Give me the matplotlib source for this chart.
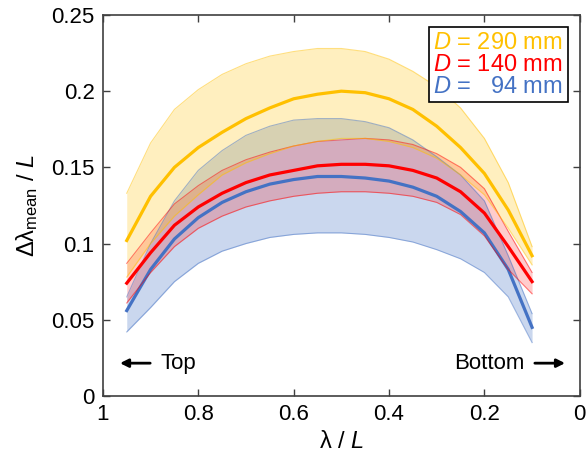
import matplotlib
matplotlib.use("Agg")
import matplotlib.pyplot as plt
import numpy as np

plt.rcParams['font.family'] = 'Liberation Sans'
plt.rcParams['mathtext.fontset'] = 'custom'
plt.rcParams['mathtext.rm'] = 'Liberation Sans'
plt.rcParams['mathtext.it'] = 'Liberation Sans:italic'
plt.rcParams['mathtext.bf'] = 'Liberation Sans:bold'

# position along the sample, lambda / L
x = [0.95, 0.9, 0.85, 0.8, 0.75, 0.7, 0.65, 0.6, 0.55, 0.5,
     0.45, 0.4, 0.35, 0.3, 0.25, 0.2, 0.15, 0.1]

# D = 290 mm
y290 = [0.102, 0.131, 0.150, 0.163, 0.173, 0.182, 0.189, 0.195, 0.198, 0.200,
        0.199, 0.195, 0.188, 0.177, 0.163, 0.146, 0.122, 0.092]
hi290 = [0.133, 0.166, 0.188, 0.201, 0.211, 0.218, 0.223, 0.226, 0.228, 0.228,
         0.226, 0.221, 0.213, 0.203, 0.189, 0.169, 0.140, 0.098]
lo290 = [0.078, 0.100, 0.118, 0.132, 0.145, 0.153, 0.159, 0.164, 0.167, 0.169,
         0.169, 0.167, 0.163, 0.156, 0.145, 0.132, 0.110, 0.086]

# D = 140 mm
y140 = [0.074, 0.094, 0.112, 0.124, 0.133, 0.140, 0.145, 0.148, 0.151, 0.152,
        0.152, 0.151, 0.148, 0.143, 0.134, 0.120, 0.098, 0.075]
hi140 = [0.087, 0.107, 0.126, 0.138, 0.148, 0.155, 0.160, 0.164, 0.167, 0.168,
         0.169, 0.168, 0.165, 0.159, 0.150, 0.136, 0.108, 0.081]
lo140 = [0.061, 0.081, 0.098, 0.110, 0.118, 0.124, 0.128, 0.131, 0.133, 0.134,
         0.134, 0.133, 0.131, 0.127, 0.119, 0.105, 0.083, 0.067]

# D = 94 mm
y94 = [0.056, 0.083, 0.103, 0.117, 0.127, 0.134, 0.139, 0.142, 0.144, 0.144,
       0.143, 0.141, 0.137, 0.131, 0.121, 0.107, 0.083, 0.045]
hi94 = [0.065, 0.100, 0.128, 0.148, 0.161, 0.171, 0.177, 0.181, 0.182, 0.182,
        0.180, 0.176, 0.168, 0.157, 0.145, 0.128, 0.092, 0.054]
lo94 = [0.042, 0.058, 0.075, 0.087, 0.095, 0.100, 0.104, 0.106, 0.107, 0.107,
        0.106, 0.104, 0.101, 0.096, 0.090, 0.081, 0.065, 0.035]

labels = [r'$D$ = 290 mm', r'$D$ = 140 mm', r'$D$ =   94 mm']
colors = ['#FFC000', '#FF0000', '#4472C4']

fig = plt.figure(figsize=(5.88, 4.68), dpi=100)
ax = fig.add_axes([0.175, 0.154, 0.811, 0.814])

series = [(y94, lo94, hi94, colors[2], 0.28),
          (y140, lo140, hi140, colors[1], 0.2),
          (y290, lo290, hi290, colors[0], 0.25)]
for y, lo, hi, c, a in series:
    ax.fill_between(x, lo, hi, color=c, alpha=a, lw=0)
    ax.plot(x, lo, color=c, lw=0.8, alpha=0.5)
    ax.plot(x, hi, color=c, lw=0.8, alpha=0.5)
    ax.plot(x, y, color=c, lw=2.3)

ax.set_xlim(1, 0)
ax.set_ylim(0, 0.25)
ax.set_xticks([1, 0.8, 0.6, 0.4, 0.2, 0])
ax.set_xticklabels(['1', '0.8', '0.6', '0.4', '0.2', '0'])
ax.set_yticks([0, 0.05, 0.1, 0.15, 0.2, 0.25])
ax.set_yticklabels(['0', '0.05', '0.1', '0.15', '0.2', '0.25'])
ax.tick_params(direction='in', top=True, right=True, length=5, width=1,
               labelsize=16, color='#404040', pad=6)
for s in ax.spines.values():
    s.set_color('#404040')
    s.set_linewidth(1.2)

ax.set_xlabel(r'$\mathrm{\lambda}$ / $L$', fontsize=17, labelpad=4)
ax.set_ylabel(r'$\mathrm{\Delta\lambda_{mean}}$ / $L$', fontsize=17, labelpad=8)

# direction hints
ax.annotate('', xy=(0.97, 0.0215), xytext=(0.895, 0.0215),
            arrowprops=dict(arrowstyle='-|>', color='black', lw=2, mutation_scale=12))
ax.text(0.88, 0.0215, 'Top', fontsize=16, va='center', ha='left')
ax.annotate('', xy=(0.025, 0.0215), xytext=(0.1, 0.0215),
            arrowprops=dict(arrowstyle='-|>', color='black', lw=2, mutation_scale=12))
ax.text(0.115, 0.0215, 'Bottom', fontsize=16, va='center', ha='right')

handles = [plt.Line2D([], [], color='none') for _ in labels]
leg = ax.legend(handles, labels, loc='upper right', fontsize=17,
                labelcolor=colors, handlelength=0, handletextpad=0,
                frameon=True, fancybox=False, framealpha=1, edgecolor='black',
                borderpad=0.2, labelspacing=0.0, borderaxespad=0.5)
leg.get_frame().set_linewidth(1.2)

fig.savefig('out.png', dpi=100)
